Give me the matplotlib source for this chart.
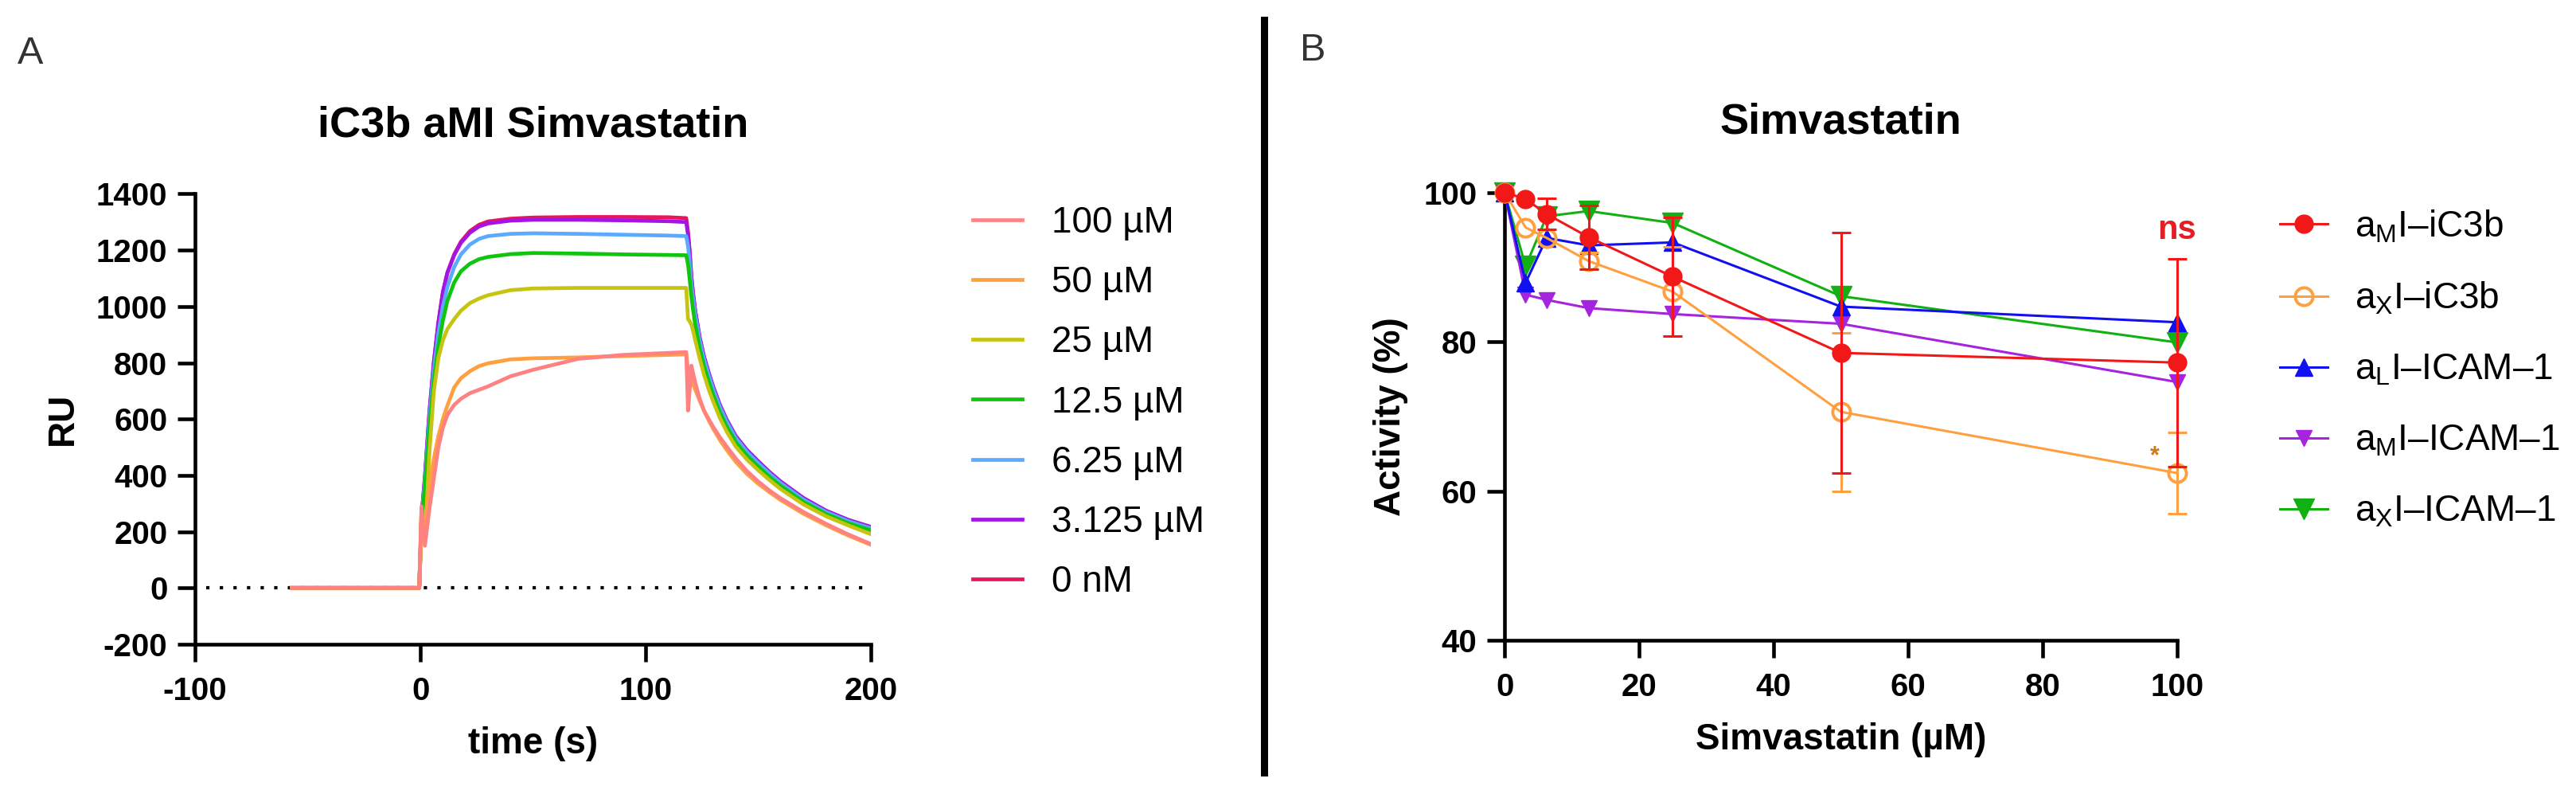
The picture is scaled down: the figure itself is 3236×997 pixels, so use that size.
import numpy as np
import matplotlib
matplotlib.use("Agg")
import matplotlib.pyplot as plt
from matplotlib.lines import Line2D

plt.rcParams['font.family'] = ['Liberation Sans', 'DejaVu Sans']
plt.rcParams['mathtext.fontset'] = 'custom'
plt.rcParams['mathtext.rm'] = 'Liberation Sans'
plt.rcParams['axes.unicode_minus'] = False

# ------------------------------------------------------------
# Panel A data: SPR sensorgrams
# ------------------------------------------------------------

time_s = [-57, -0.5, 0.5, 2, 4, 6, 8, 10, 12, 15, 18, 22, 26, 30, 40, 50, 70, 90, 110,
          118, 118.8, 119.5, 120.3, 121, 122, 124, 126, 128, 130, 133, 136, 140, 145,
          150, 155, 160, 170, 180, 190, 200]

ru_0nM = [0, 0, 250, 390, 620, 800, 940, 1050, 1120, 1185, 1230, 1268, 1290, 1302,
          1312, 1316, 1318, 1318, 1317,
          1314, 1265, 1200, 1105, 1048, 982, 886, 816, 761, 711, 646, 594, 536, 486,
          446, 409, 375, 317, 272, 239, 214]
ru_3125 = [0, 0, 250, 395, 625, 805, 945, 1052, 1120, 1182, 1226, 1262, 1284, 1295,
           1305, 1308, 1308, 1306, 1303,
           1300, 1255, 1195, 1105, 1050, 985, 890, 820, 765, 715, 650, 598, 540, 490,
           450, 412, 378, 320, 275, 242, 217]
ru_625 = [0, 0, 240, 380, 600, 775, 905, 1000, 1070, 1140, 1185, 1220, 1240, 1250,
          1258, 1260, 1258, 1255, 1252,
          1250, 1215, 1160, 1080, 1030, 970, 878, 810, 756, 706, 642, 590, 533, 483,
          443, 406, 372, 314, 270, 237, 212]
ru_125 = [0, 0, 230, 360, 570, 740, 860, 950, 1020, 1085, 1125, 1152, 1168, 1176,
          1186, 1190, 1188, 1185, 1183,
          1182, 1150, 1100, 1035, 990, 935, 850, 785, 733, 685, 623, 573, 518, 470,
          431, 395, 362, 306, 263, 230, 205]
ru_25 = [0, 0, 280, 160, 480, 700, 817, 880, 920, 955, 985, 1012, 1028, 1040, 1058,
         1064, 1066, 1066, 1066,
         1066, 955, 948, 935, 915, 880, 815, 755, 705, 662, 603, 555, 502, 456,
         418, 383, 351, 297, 255, 222, 191]
ru_50 = [0, 0, 200, 210, 360, 460, 540, 600, 648, 712, 745, 770, 788, 798, 812, 816,
         819, 824, 828,
         830, 780, 760, 740, 725, 705, 665, 628, 595, 565, 525, 490, 448, 405,
         370, 340, 312, 264, 223, 186, 153]
ru_100 = [0, 0, 290, 150, 280, 390, 500, 570, 615, 650, 672, 692, 704, 716, 752, 775,
          814, 828, 835,
          838, 630, 700, 790, 765, 730, 672, 628, 600, 572, 535, 502, 460, 415,
          378, 346, 318, 270, 228, 190, 156]

conc_labels = ["100 µM", "50 µM", "25 µM", "12.5 µM", "6.25 µM", "3.125 µM", "0 nM"]
conc_colors = ["#FF8282", "#FFA040", "#C6C410", "#10C410", "#5AAAFF", "#A414E4", "#E8145C"]
sensorgrams = [ru_100, ru_50, ru_25, ru_125, ru_625, ru_3125, ru_0nM]

baseline_span = [-95, 197]

# ------------------------------------------------------------
# Panel B data: activity vs simvastatin
# ------------------------------------------------------------

simva_uM = [0, 3.125, 6.25, 12.5, 25, 50, 100]

am_ic3b = [100, 99.1, 97.1, 94.0, 88.7, 78.5, 77.2]
am_ic3b_err = [0, 0, 2.1, 4.3, 7.9, 16.1, 13.9]
ax_ic3b = [100, 95.3, 93.9, 90.8, 86.7, 70.6, 62.4]
ax_ic3b_err = [0, 0, 0, 1.1, 6.0, 10.6, 5.4]
al_icam = [100, 87.9, 93.9, 92.9, 93.3, 84.7, 82.6]
am_icam = [100, 86.3, 85.6, 84.5, 83.7, 82.4, 74.6]
ax_icam = [100, 90.1, 96.8, 97.5, 95.9, 86.1, 79.9]

# ------------------------------------------------------------
# Figure
# ------------------------------------------------------------

fig = plt.figure(figsize=(32.37, 9.97), dpi=100)

tick_fs = 29
label_fs = 33
title_fs = 39


def style_axes(ax):
    for side in ("top", "right"):
        ax.spines[side].set_visible(False)
    for side in ("left", "bottom"):
        ax.spines[side].set_linewidth(3.3)
    ax.tick_params(width=3.3, length=16, labelsize=tick_fs, pad=9)
    ax.tick_params(axis='x', pad=13)
    for lab in ax.get_xticklabels() + ax.get_yticklabels():
        lab.set_fontweight('bold')


# ---------------- Panel A ----------------
axA = fig.add_axes([0.0757, 0.1886, 0.2623, 0.5672])

axA.plot(baseline_span, [0, 0], color='black', lw=3.0,
         linestyle=(0, (1, 3.1)), dash_capstyle='butt', zorder=1)

# draw 0 nM first, 100 µM last (on top)
for ru, col, lab in list(zip(sensorgrams, conc_colors, conc_labels))[::-1]:
    axA.plot(time_s, ru, color=col, lw=3.4, label=lab, solid_joinstyle='round')

axA.set_xlim(-100, 200)
axA.set_ylim(-200, 1400)
axA.set_xticks([-100, 0, 100, 200])
axA.set_yticks(np.arange(-200, 1401, 200))
style_axes(axA)
axA.set_title("iC3b aMI Simvastatin", fontsize=title_fs, fontweight='bold', pad=52)
axA.set_xlabel("time (s)", fontsize=label_fs, fontweight='bold', labelpad=18)
axA.set_ylabel("RU", fontsize=label_fs, fontweight='bold', labelpad=14)

handles, labels = axA.get_legend_handles_labels()
order = [labels.index(l) for l in conc_labels]
legA = axA.legend([handles[i] for i in order], [labels[i] for i in order],
                  loc='upper left', bbox_to_anchor=(1222 / 3237, 1 - 258 / 997),
                  bbox_transform=fig.transFigure, frameon=False, fontsize=33,
                  handlelength=1.35, handletextpad=0.8, labelspacing=0.68,
                  borderpad=0, borderaxespad=0)

# ---------------- Panel B ----------------
axB = fig.add_axes([0.5839, 0.1936, 0.2610, 0.5641])

series = [
    (ax_icam, None, "#12B012", 'v', 19, True, r"a$_\mathregular{X}$I–ICAM–1"),
    (am_icam, None, "#A524E0", 'v', 14, True, r"a$_\mathregular{M}$I–ICAM–1"),
    (al_icam, None, "#1010F0", '^', 16, True, r"a$_\mathregular{L}$I–ICAM–1"),
    (ax_ic3b, ax_ic3b_err, "#FFA040", 'o', 16, False, r"a$_\mathregular{X}$I–iC3b"),
    (am_ic3b, am_ic3b_err, "#F21818", 'o', 16.5, True, r"a$_\mathregular{M}$I–iC3b"),
]

x = np.array(simva_uM)
for z, (vals, err, col, mk, ms, filled, lab) in enumerate(series):
    y = np.array(vals)
    if err is not None:
        e = np.array(err)
        m = e > 0
        axB.errorbar(x[m], y[m], yerr=e[m], fmt='none', ecolor=col, elinewidth=2.2,
                     capsize=8.4, capthick=2.2, zorder=3 + z, clip_on=False)
    axB.plot(x, y, color=col, lw=2.2, marker=mk, markersize=ms,
             markerfacecolor=col if filled else 'none',
             markeredgecolor=col, markeredgewidth=2.8 if not filled else 1,
             label=lab, zorder=3 + z, clip_on=False)

axB.set_xlim(0, 100)
axB.set_ylim(40, 100)
axB.set_xticks([0, 20, 40, 60, 80, 100])
axB.set_yticks([40, 60, 80, 100])
style_axes(axB)
axB.set_title("Simvastatin", fontsize=title_fs, fontweight='bold', pad=53)
axB.set_xlabel("Simvastatin (µM)", fontsize=label_fs, fontweight='bold', labelpad=18)
axB.set_ylabel("Activity (%)", fontsize=label_fs, fontweight='bold', labelpad=14)

axB.text(100, 94.9, "ns", color="#E21F26", fontsize=30, fontweight='bold',
         ha='center', va='center')
axB.text(96.7, 64.6, "*", color="#D07A18", fontsize=22, fontweight='bold',
         ha='center', va='center')

handles, labels = axB.get_legend_handles_labels()
handles, labels = handles[::-1], labels[::-1]
legB = axB.legend(handles, labels, loc='upper left',
                  bbox_to_anchor=(2864 / 3237, 1 - 262 / 997),
                  bbox_transform=fig.transFigure, frameon=False, fontsize=33,
                  handlelength=1.3, handletextpad=0.75, labelspacing=0.98,
                  borderpad=0, borderaxespad=0)

# ---------------- panel letters and divider ----------------
fig.text(0.0119, 0.932, "A", fontsize=35, color="#333333", ha='center', va='center')
fig.text(0.5094, 0.936, "B", fontsize=35, color="#333333", ha='center', va='center')
fig.add_artist(Line2D([1588 / 3237, 1588 / 3237], [1 - 25 / 997, 1 - 970 / 997],
                      transform=fig.transFigure, color='black', lw=6.5))

fig.savefig("out.png", dpi=100)
